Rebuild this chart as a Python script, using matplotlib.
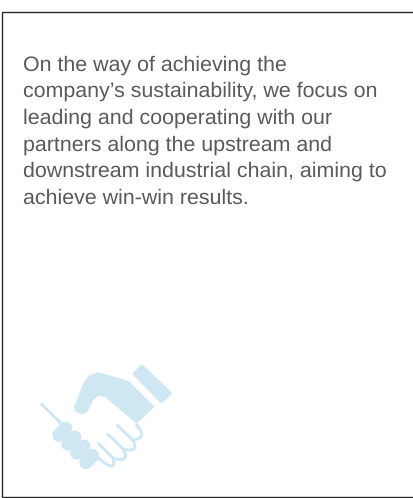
import matplotlib
matplotlib.use('Agg')
import matplotlib.pyplot as plt
from matplotlib.patches import PathPatch, Polygon
from matplotlib.path import Path

plt.rcParams['font.family'] = ['Liberation Sans', 'DejaVu Sans']
plt.rcParams['text.hinting'] = 'no_hinting'
plt.rcParams['text.hinting_factor'] = 8

W, H = 414, 498
ICON = '#cfe6f3'
TEXT = '#5a5a5a'
BORDER = '#2a2a2a'

text_lines = [
    'On the way of achieving the',
    'company\u2019s sustainability, we focus on',
    'leading and cooperating with our',
    'partners along the upstream and',
    'downstream industrial chain, aiming to',
    'achieve win-win results.',
]

fig = plt.figure(figsize=(W / 100, H / 100), dpi=100)
ax = fig.add_axes([0, 0, 1, 1])
ax.set_xlim(0, W)
ax.set_ylim(H, 0)
ax.axis('off')

# border has no right side in the picture
ax.plot([W, 2.5, 2.5, W], [11.5, 11.5, 497, 497], color=BORDER, lw=1.0, solid_joinstyle='miter')

for i, line in enumerate(text_lines):
    ax.text(23, 70.5 + i * 26.6, line, fontsize=15.4, color=TEXT, ha='left', va='baseline')


def px(p):
    return (20 + p[0] / 3, 350 + p[1] / 3)


def stroke(points, width, curved=False):
    pts = [px(p) for p in points]
    if curved:
        codes = [Path.MOVETO] + [Path.CURVE3] * (len(pts) - 1)
    else:
        codes = [Path.MOVETO] + [Path.LINETO] * (len(pts) - 1)
    ax.add_patch(PathPatch(Path(pts, codes), fc='none', ec=ICON, lw=width * 0.72,
                           capstyle='round', joinstyle='round'))


# cuff
cuff = [(345, 72), (365, 50), (449, 130), (425, 153)]
ax.add_patch(Polygon([px(p) for p in cuff], closed=True, fc=ICON, ec=ICON, lw=3, joinstyle='round'))

# upper hand
hand = [(166, 170), (194, 102), (208, 80), (235, 71), (323, 96), (398, 170), (350, 216),
        (258, 138), (237, 132), (216, 148), (207, 168), (200, 182), (185, 189), (171, 183)]
ax.add_patch(Polygon([px(p) for p in hand], closed=True, fc=ICON, ec=ICON, lw=1.9, joinstyle='round'))

# thin line and knuckles
stroke([(65, 163), (128, 225)], 3)
for a, b in [((117, 255), (137, 235)), ((144, 282), (164, 262)),
             ((171, 309), (191, 289)), ((198, 337), (218, 317))]:
    stroke([a, b], 13.5)

# fingers
for a, b in [((292, 226), (338, 270)), ((264, 253), (310, 297)), ((236, 281), (280, 325))]:
    stroke([a, b], 3)
stroke([(350, 225), (385, 265), (338, 270), (360, 310), (310, 297),
        (332, 340), (280, 325), (290, 372), (236, 325)], 3, curved=True)

fig.savefig('out.png', dpi=100, facecolor='white')
